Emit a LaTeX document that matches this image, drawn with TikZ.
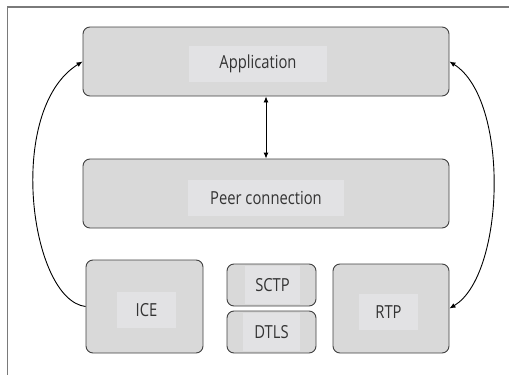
\documentclass[tikz,border=0pt]{standalone}
\usepackage{fontspec}
\setmainfont{Open Sans}[FakeStretch=0.82]
\usetikzlibrary{arrows.meta}

\definecolor{boxgray}{HTML}{D9D9D9}
\definecolor{taggray}{HTML}{E2E2E4}
\definecolor{framegray}{HTML}{7A7A7A}

\tikzset{
	layer/.style={draw=black!75, fill=boxgray, rounded corners=7pt, line width=0.9pt},
	tag/.style={fill=taggray, inner sep=0pt, text=black!80, font=\fontsize{18}{20}\selectfont},
	link/.style={line width=0.9pt, {Latex[length=6pt,width=5pt]}-{Latex[length=6pt,width=5pt]}},
	halflink/.style={line width=0.9pt, -{Latex[length=6pt,width=5pt]}}
}

\begin{document}
\begin{tikzpicture}[x=1pt, y=-1pt]
		\useasboundingbox (0,0) rectangle (509,375);
		% Frame
		\draw[framegray, line width=1.5pt] (509,7) -- (7.5,7) -- (7.5,375);
		
		% Upper layers
		\node[layer, minimum width=366pt, minimum height=69pt] (app) at (266,61.5) {};
		\node[tag, minimum width=138pt, minimum height=36pt] (appt) at (258,64) {Application};
		\node[layer, minimum width=366pt, minimum height=69pt] (peer) at (266,193.5) {};
		\node[tag, minimum width=156pt, minimum height=36pt] (peert) at (266,198) {Peer connection};
		
		% Lower layers
		\node[layer, minimum width=117pt, minimum height=93pt] (ice) at (144.5,306.5) {};
		\node[tag, minimum width=59pt, minimum height=36pt] (icet) at (146.5,310) {ICE};
		\node[layer, minimum width=89pt, minimum height=42pt] (sctp) at (271.5,285) {};
		\node[tag, minimum width=55pt, minimum height=38pt] (sctpt) at (272.5,285) {SCTP};
		\node[layer, minimum width=89pt, minimum height=42pt] (dtls) at (271.5,332) {};
		\node[tag, minimum width=57pt, minimum height=38pt] (dtlst) at (271.5,332) {DTLS};
		\node[layer, minimum width=116pt, minimum height=89pt] (rtp) at (391,308.5) {};
		\node[tag, minimum width=59pt, minimum height=36pt] (rtpt) at (388.5,312) {RTP};
		
		% Connectors
		\draw[link] (app.south) -- (peer.north);
		\draw[halflink] (ice.west) .. controls (30,300) and (5,110) .. (app.west);
		\draw[link] (app.east) .. controls (510,100) and (505,275) .. (rtp.east);
	\end{tikzpicture}
\end{document}
